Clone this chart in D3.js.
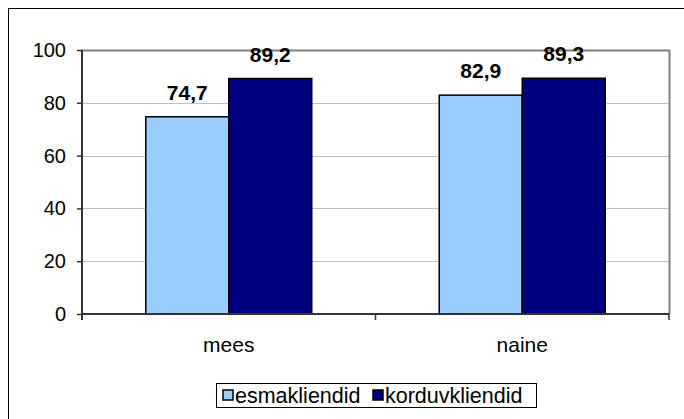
<!DOCTYPE html>
<html><head><meta charset="utf-8">
<script src="https://cdn.jsdelivr.net/npm/d3@7"></script>
<style>body{margin:0;background:#fff;} svg{display:block;font-family:"Liberation Sans",Arial,sans-serif;}</style>
</head><body>
<script>
const categories = ["mees", "naine"];
const seriesNames = ["esmakliendid", "korduvkliendid"];
const esmakliendid = [74.7, 82.9];
const korduvkliendid = [89.2, 89.3];
const yTicks = [0, 20, 40, 60, 80, 100];
const colors = ["#99CCFF", "#000080"];

const W = 684, H = 419;
const m = {left: 82, right: 669, top: 50, bottom: 314};
const svg = d3.select("body").append("svg").attr("width", W).attr("height", H);

// outer border
svg.append("rect").attr("x", 8.5).attr("y", 8.5).attr("width", 690).attr("height", 430)
  .attr("fill", "none").attr("stroke", "#000").attr("stroke-width", 1);

const y = d3.scaleLinear().domain([0, 100]).range([m.bottom, m.top]);
const x0 = d3.scaleBand().domain(categories).range([m.left, m.right]);
const x1 = d3.scaleBand().domain(seriesNames).range([0, x0.bandwidth()]).paddingOuter(0.768);

// gridlines
svg.append("g").selectAll("line").data(yTicks.filter(t => t > 0 && t < 100)).join("line")
  .attr("x1", m.left).attr("x2", m.right)
  .attr("y1", d => Math.round(y(d)) + 0.5).attr("y2", d => Math.round(y(d)) + 0.5)
  .attr("stroke", "#c0c0c0").attr("stroke-width", 1);
// plot border top/right
svg.append("path").attr("d", `M${m.left},${m.top + 0.5}H${m.right + 0.5}V${m.bottom}`)
  .attr("fill", "none").attr("stroke", "#808080").attr("stroke-width", 2);

const data = [esmakliendid, korduvkliendid];
seriesNames.forEach((s, si) => {
  const g = svg.append("g");
  g.selectAll("rect").data(categories).join("rect")
    .attr("x", c => x0(c) + x1(s))
    .attr("y", (c, i) => y(data[si][i]))
    .attr("width", x1.bandwidth())
    .attr("height", (c, i) => y(0) - y(data[si][i]))
    .attr("fill", colors[si]).attr("stroke", "#000").attr("stroke-width", 1.5);
  g.selectAll("text").data(categories).join("text")
    .attr("x", c => x0(c) + x1(s) + x1.bandwidth() / 2)
    .attr("y", (c, i) => y(data[si][i]) - 17)
    .attr("text-anchor", "middle").attr("font-weight", "bold").attr("font-size", 21)
    .attr("fill", "#000")
    .text((c, i) => d3.format(".1f")(data[si][i]).replace(".", ","));
});

// y axis
const yAxis = d3.axisLeft(y).tickValues(yTicks).tickSize(5).tickPadding(11).tickFormat(d3.format("d"));
const ya = svg.append("g").attr("transform", `translate(${m.left},0)`).call(yAxis);
ya.select(".domain").attr("d", `M0,${m.top}V${m.bottom + 6}`).attr("stroke", "#333").attr("stroke-width", 2);
ya.selectAll(".tick line").attr("stroke", "#333").attr("stroke-width", 1.5);
ya.selectAll("text").attr("font-size", 20).attr("fill", "#000").attr("font-family", "Liberation Sans, Arial, sans-serif");

// x axis
const xa = svg.append("g").attr("transform", `translate(0,${m.bottom})`);
xa.append("line").attr("x1", m.left).attr("x2", m.right).attr("y1", 0).attr("y2", 0)
  .attr("stroke", "#333").attr("stroke-width", 2);
const xTickPos = [m.left, ...categories.slice(1).map(c => x0(c)), m.right];
xa.selectAll("line.t").data(xTickPos).join("line").attr("class", "t")
  .attr("x1", d => d).attr("x2", d => d).attr("y1", 0).attr("y2", 6)
  .attr("stroke", "#333").attr("stroke-width", 1.5);
xa.selectAll("text").data(categories).join("text")
  .attr("x", c => x0(c) + x0.bandwidth() / 2).attr("y", 37.5)
  .attr("text-anchor", "middle").attr("font-size", 21).attr("fill", "#000").text(c => c);

// legend
const lg = svg.append("g");
lg.append("rect").attr("x", 216.5).attr("y", 383.5).attr("width", 320).attr("height", 24)
  .attr("fill", "#fff").attr("stroke", "#000").attr("stroke-width", 1);
const legX = [223, 373];
seriesNames.forEach((s, i) => {
  lg.append("rect").attr("x", legX[i]).attr("y", 390).attr("width", 10).attr("height", 10)
    .attr("fill", colors[i]).attr("stroke", "#000").attr("stroke-width", 1.5);
  lg.append("text").attr("x", legX[i] + 12).attr("y", 403).attr("font-size", 21.5)
    .attr("fill", "#000").text(s);
});
</script>
</body></html>
